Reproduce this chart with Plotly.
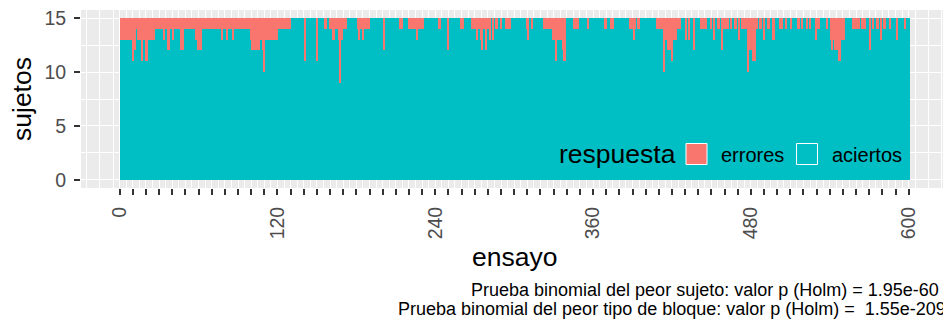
import plotly.graph_objects as go

# Number of subjects and error counts per trial (ensayo 1..600)
n_sujetos = 15
ensayos = list(range(1, 601))
errores = [
    2, 2, 2, 2, 2, 2, 2, 2, 2, 4,
    3, 3, 1, 2, 2, 2, 4, 2, 2, 4,
    4, 2, 2, 2, 2, 2, 1, 1, 1, 1,
    1, 1, 1, 2, 1, 1, 3, 3, 1, 1,
    2, 1, 1, 1, 1, 1, 3, 3, 1, 1,
    1, 1, 1, 1, 1, 1, 1, 2, 2, 3,
    3, 3, 1, 1, 1, 1, 1, 1, 1, 1,
    1, 1, 1, 1, 1, 1, 1, 2, 1, 1,
    1, 2, 1, 1, 1, 2, 1, 1, 1, 1,
    1, 1, 1, 1, 1, 1, 1, 1, 1, 2,
    3, 3, 3, 3, 3, 3, 2, 2, 3, 5,
    2, 2, 2, 2, 2, 2, 2, 2, 2, 2,
    1, 0, 1, 1, 0, 1, 1, 0, 1, 1,
    0, 0, 0, 0, 0, 0, 0, 0, 0, 0,
    4, 0, 0, 0, 0, 0, 0, 0, 0, 4,
    0, 0, 0, 0, 0, 1, 1, 0, 0, 1,
    1, 2, 2, 1, 1, 1, 2, 6, 2, 1,
    1, 1, 0, 0, 0, 0, 0, 0, 0, 0,
    1, 2, 1, 1, 2, 1, 1, 1, 0, 1,
    0, 0, 0, 0, 0, 0, 0, 0, 0, 0,
    3, 0, 0, 0, 0, 0, 0, 0, 0, 0,
    0, 0, 1, 0, 1, 0, 0, 0, 0, 1,
    1, 1, 1, 1, 1, 2, 1, 1, 1, 1,
    1, 0, 0, 0, 0, 0, 0, 0, 0, 0,
    0, 0, 1, 1, 0, 0, 0, 0, 0, 3,
    0, 0, 0, 0, 0, 0, 0, 0, 0, 1,
    1, 0, 0, 0, 0, 0, 0, 1, 1, 1,
    1, 2, 1, 1, 2, 3, 1, 1, 3, 1,
    0, 2, 0, 2, 0, 1, 1, 0, 0, 1,
    0, 0, 0, 1, 1, 1, 1, 0, 0, 0,
    0, 0, 0, 0, 0, 0, 0, 0, 0, 1,
    2, 0, 0, 1, 0, 0, 0, 0, 0, 0,
    0, 0, 1, 1, 1, 1, 1, 0, 1, 2,
    2, 4, 2, 2, 2, 2, 3, 4, 4, 0,
    0, 0, 0, 0, 0, 1, 1, 0, 1, 0,
    0, 0, 0, 0, 0, 1, 0, 0, 0, 0,
    0, 0, 0, 0, 0, 0, 0, 0, 1, 1,
    0, 0, 0, 1, 1, 0, 0, 0, 0, 0,
    0, 0, 0, 0, 0, 0, 0, 1, 1, 1,
    2, 1, 0, 1, 1, 0, 0, 0, 0, 0,
    0, 0, 0, 0, 0, 0, 0, 0, 1, 1,
    1, 1, 1, 5, 2, 2, 3, 3, 3, 4,
    2, 2, 2, 1, 1, 1, 0, 0, 0, 0,
    2, 0, 2, 0, 0, 0, 3, 0, 0, 0,
    0, 1, 1, 1, 1, 1, 0, 0, 0, 1,
    0, 2, 0, 0, 1, 1, 0, 3, 0, 1,
    1, 1, 1, 0, 1, 0, 0, 1, 1, 0,
    2, 0, 1, 1, 1, 1, 1, 5, 3, 3,
    3, 4, 4, 0, 1, 0, 1, 1, 0, 2,
    0, 0, 1, 1, 0, 0, 2, 2, 0, 0,
    0, 1, 1, 1, 0, 0, 1, 0, 0, 0,
    1, 0, 0, 0, 0, 1, 1, 0, 1, 0,
    0, 0, 1, 0, 1, 0, 0, 0, 0, 2,
    1, 1, 0, 0, 0, 0, 0, 1, 0, 0,
    2, 3, 2, 3, 3, 3, 4, 4, 2, 2,
    2, 0, 0, 0, 0, 0, 0, 1, 1, 0,
    1, 1, 0, 0, 1, 1, 1, 0, 0, 0,
    3, 0, 1, 0, 0, 1, 1, 0, 2, 0,
    1, 1, 0, 0, 0, 1, 0, 0, 0, 0,
    2, 0, 0, 0, 0, 0, 1, 0, 0, 0,
]
aciertos = [n_sujetos - e for e in errores]

x_ticks = list(range(0, 601, 10))
x_ticklabels = [str(v) if v % 120 == 0 else "" for v in x_ticks]
y_ticks = [0, 5, 10, 15]

caption_1 = "Prueba binomial del peor sujeto: valor p (Holm) = 1.95e-60"
caption_2 = "Prueba binomial del peor tipo de bloque: valor p (Holm) =  1.55e-209"

COL_ERR = "#F8766D"
COL_OK = "#00BFC4"
FONT = "Liberation Sans, Arial, sans-serif"

W, H = 943, 320
ML, MT, MB = 81, 10, 132
PW, PH = W - ML, H - MT - MB


def px(x):
    return (x - ML) / PW


def py(y):
    return (MT + PH - y) / PH


fig = go.Figure()
fig.add_trace(go.Bar(x=ensayos, y=aciertos, name="aciertos", width=1,
                     marker=dict(color=COL_OK, line=dict(width=0))))
fig.add_trace(go.Bar(x=ensayos, y=errores, name="errores", width=1,
                     marker=dict(color=COL_ERR, line=dict(width=0))))

# x scale: 1.315 px per trial, 0 placed at x = 119.4 px
x0 = -29.4
x1 = x0 + PW / 1.315

fig.update_layout(
    width=W, height=H,
    margin=dict(l=ML, r=0, t=MT, b=MB, pad=0),
    barmode="stack", bargap=0,
    showlegend=False,
    paper_bgcolor="white",
    plot_bgcolor="#EBEBEB",
    font=dict(family=FONT, color="#4D4D4D"),
    xaxis=dict(
        range=[x0, x1], tickmode="array", tickvals=x_ticks, ticktext=x_ticklabels,
        tickangle=-90, ticks="outside", ticklen=6, tickwidth=2, tickcolor="#333333",
        tickfont=dict(size=19.5, color="#4D4D4D", family=FONT),
        showgrid=True, gridcolor="white", gridwidth=1.1, zeroline=False,
        showline=False, ticklabelstandoff=4,
        minor=dict(tickmode="linear", tick0=5, dtick=10, showgrid=True,
                   gridcolor="white", gridwidth=0.55, ticks=""),
    ),
    yaxis=dict(
        range=[-0.75, 15.75], tickmode="array", tickvals=y_ticks,
        ticks="outside", ticklen=6, tickwidth=2, tickcolor="#333333",
        tickfont=dict(size=19.5, color="#4D4D4D", family=FONT),
        showgrid=True, gridcolor="white", gridwidth=1.1, zeroline=False,
        showline=False, ticklabelstandoff=4,
        minor=dict(tickmode="linear", tick0=2.5, dtick=5, showgrid=True,
                   gridcolor="white", gridwidth=0.55, ticks=""),
    ),
)

annotations = [
    dict(text="sujetos", x=px(22), y=py(99), textangle=-90,
         font=dict(size=26.5, color="black", family=FONT)),
    dict(text="ensayo", x=px(514.5), y=py(257),
         font=dict(size=26.5, color="black", family=FONT)),
    dict(text=caption_1, x=px(941), y=py(290), xanchor="right",
         font=dict(size=18, color="black", family=FONT)),
    dict(text=caption_2, x=px(396), y=py(309), xanchor="left",
         font=dict(size=18, color="black", family=FONT)),
    # legend
    dict(text="respuesta", x=px(557), y=py(154), xanchor="left",
         font=dict(size=26.5, color="black", family=FONT)),
    dict(text="errores", x=px(719), y=py(155), xanchor="left",
         font=dict(size=20, color="black", family=FONT)),
    dict(text="aciertos", x=px(830), y=py(155), xanchor="left",
         font=dict(size=20, color="black", family=FONT)),
]
for a in annotations:
    a.update(xref="paper", yref="paper", showarrow=False, yanchor=a.get("yanchor", "middle"),
             xanchor=a.get("xanchor", "center"))
fig.update_layout(annotations=annotations)

shapes = []
for (xa, xb, col) in [(686, 707, COL_ERR), (796.5, 817.5, COL_OK)]:
    shapes.append(dict(type="rect", xref="paper", yref="paper",
                       x0=px(xa), x1=px(xb), y0=py(164.5), y1=py(143.5),
                       fillcolor=col, line=dict(color="white", width=1)))
fig.update_layout(shapes=shapes)

fig.write_html("out.html")
